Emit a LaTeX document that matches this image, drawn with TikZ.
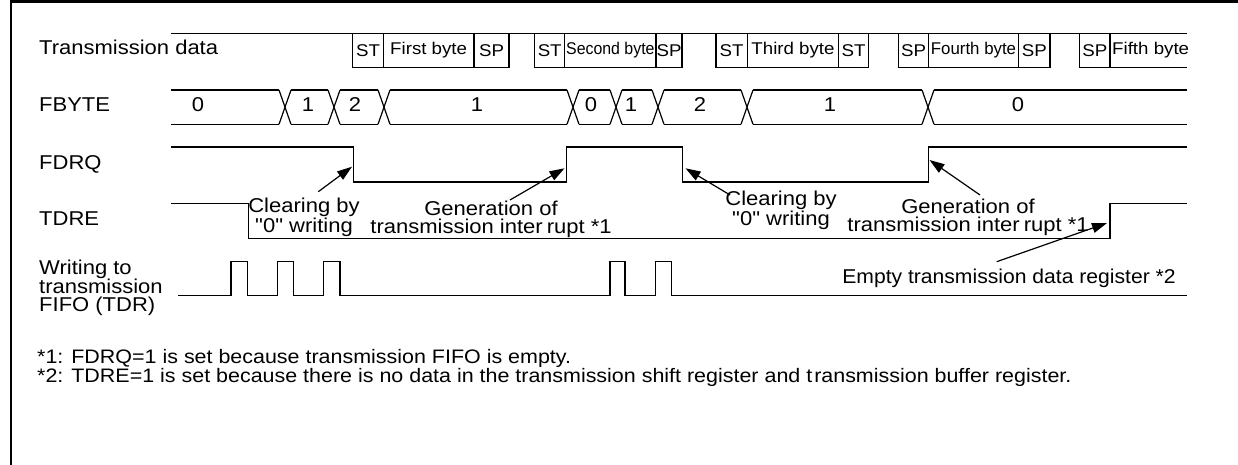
\documentclass[tikz,border=0pt]{standalone}
\usepackage{fontspec}
\setmainfont{Liberation Sans}[FakeStretch=1.1, Ligatures=TeXOff]
\usepackage{graphicx}
\usetikzlibrary{arrows.meta}
\begin{document}
\begin{tikzpicture}[x=1pt,y=-1pt,
  wave/.style={line width=1.2pt, line join=miter},
  frameline/.style={line width=2.8pt},
  lbl/.style={inner sep=0pt, anchor=base west, font=\fontsize{20}{17.5}\selectfont, align=left},
  num/.style={inner sep=0pt, anchor=base, font=\fontsize{20}{20}\selectfont},
  fld/.style={draw, line width=1.2pt, inner sep=0pt, minimum height=34pt, anchor=center, font=\fontsize{17}{17}\selectfont},
  note/.style={inner sep=0pt, anchor=base, font=\fontsize{20}{17.3}\selectfont, align=center},
  foot/.style={inner sep=0pt, anchor=base west, font=\fontsize{19.5}{19.5}\selectfont},
  arr/.style={line width=1.2pt, -{Triangle[length=15pt,width=10pt]}}]
\useasboundingbox (0,0) rectangle (1238,465);
% frame
\draw[frameline] (11,465) -- (11,1.3) -- (1238,1.3);

% signal labels
\node[lbl] (lTD) at (39,54.5) {Transmission data};
\node[lbl] (lFB) at (39,111.5) {FBYTE};
\node[lbl] (lFD) at (39,169) {FDRQ};
\node[lbl] (lTE) at (39,225) {TDRE};
\node[lbl, anchor=north west] (lWR) at (39,259.5) {Writing to\\transmission\\FIFO (TDR)};

% transmission data
\draw[wave] (171,33.3) -- (1187,33.3);
\node[fld, minimum width=30.6pt] (f1a) at (368,50.3) {ST};
\node[fld, minimum width=90.7pt] (f1b) at (428.65,50.3) {First byte};
\node[fld, minimum width=35pt] (f1c) at (491.5,50.3) {SP};
\node[fld, minimum width=30pt] (f2a) at (549.7,50.3) {ST};
\node[fld, minimum width=91.3pt] (f2b) at (610.35,50.3) {\scalebox{0.85}[1]{Second byte}};
\node[fld, minimum width=26pt] (f2c) at (669,50.3) {SP};
\node[fld, minimum width=31.3pt] (f3a) at (731.65,50.3) {ST};
\node[fld, minimum width=91.4pt] (f3b) at (793,50.3) {Third byte};
\node[fld, minimum width=29.6pt] (f3c) at (853.5,50.3) {ST};
\node[fld, minimum width=30pt] (f4a) at (913.5,50.3) {SP};
\node[fld, minimum width=90pt] (f4b) at (973.5,50.3) {\scalebox{0.9}[1]{Fourth byte}};
\node[fld, minimum width=31.5pt] (f4c) at (1034.25,50.3) {SP};
\node[fld, minimum width=30.5pt] (f5a) at (1094.75,50.3) {SP};
\draw[wave] (1110,67.3) -- (1187,67.3);
\node[inner sep=0pt, anchor=west, font=\fontsize{17}{17}\selectfont] (f5b) at (1112,50.3) {Fifth byte};

% FBYTE bus
\foreach \a/\b in {171/279,291/328,340/378,390/567,579/610,622/652,664/741,753/922,934/1187}
  \draw[wave] (\a,90) -- (\b,90) (\a,124.3) -- (\b,124.3);
\foreach \c in {285,334,384,573,616,658,747,928}
  \draw[wave] (\c-6,90) -- (\c+6,124.3) (\c-6,124.3) -- (\c+6,90);
\node[num] (b1) at (198,112) {0};
\node[num] (b2) at (308,112) {1};
\node[num] (b3) at (355,112) {2};
\node[num] (b4) at (477,112) {1};
\node[num] (b5) at (591,112) {0};
\node[num] (b6) at (631,112) {1};
\node[num] (b7) at (700,112) {2};
\node[num] (b8) at (830,112) {1};
\node[num] (b9) at (1018,112) {0};

% FDRQ
\draw[wave] (171,147) -- (353.3,147) -- (353.3,182) -- (566.7,182) -- (566.7,147)
  -- (682.7,147) -- (682.7,182) -- (928.3,182) -- (928.3,147) -- (1187,147);
% TDRE
\draw[wave] (171,203.3) -- (248.3,203.3) -- (248.3,238.7) -- (1110,238.7) -- (1110,203.3) -- (1187,203.3);
% Writing to TDR
\draw[wave] (178,295.7)
  -- (231,295.7) -- (231,261.7) -- (247.7,261.7) -- (247.7,295.7)
  -- (277.3,295.7) -- (277.3,261.7) -- (293.3,261.7) -- (293.3,295.7)
  -- (323.3,295.7) -- (323.3,261.7) -- (340,261.7) -- (340,295.7)
  -- (610,295.7) -- (610,261.7) -- (625,261.7) -- (625,295.7)
  -- (655.7,295.7) -- (655.7,261.7) -- (671.7,261.7) -- (671.7,295.7)
  -- (1187,295.7);

% annotations
\node[note] (n1) at (304,232) {Clearing by\\"0" writing};
\node[note] (n2) at (491,233) {Generation of\\transmission inter\kern4pt rupt *1};
\node[note] (n3) at (781,225) {Clearing by\\"0" writing};
\node[note] (n4) at (968,231) {Generation of\\transmission inter\kern4pt rupt *1};
\node[note] (n5) at (1009,283) {\scalebox{0.96}[1]{Empty transmission data register *2}};

\coordinate (s1) at (318.3,191.7); \coordinate (t1) at (352,166.7);
\coordinate (s2) at (510,200);    \coordinate (t2) at (564.5,168.3);
\coordinate (s3) at (730,195);    \coordinate (t3) at (685.5,168.3);
\coordinate (s4) at (980,195);    \coordinate (t4) at (929.5,160);
\coordinate (s5) at (996.7,261.7);\coordinate (t5) at (1107,223);
\draw[arr] (s1) -- (t1);
\draw[arr] (s2) -- (t2);
\draw[arr] (s3) -- (t3);
\draw[arr] (s4) -- (t4);
\draw[arr] (s5) -- (t5);

% footnotes
\node[foot] (fn1) at (37,363) {*1: FDRQ=1 is set because transmission FIFO is empty.};
\node[foot] (fn2) at (37,382) {*2: TDRE=1 is set because there is no data in the transmission shift register and t\kern2pt ransmission buffer register.};
\end{tikzpicture}
\end{document}
